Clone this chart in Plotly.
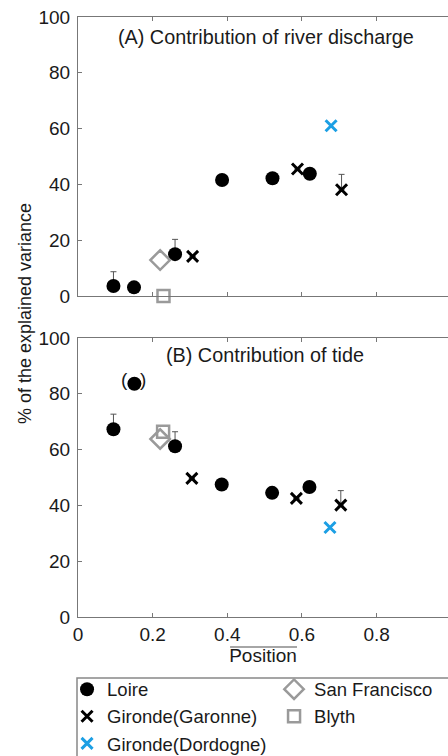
import plotly.graph_objects as go

# ---------------- data ----------------
# Panel A: contribution of river discharge
loire_x_A = [0.095, 0.150, 0.260, 0.386, 0.521, 0.621]
loire_y_A = [3.6, 3.1, 15.0, 41.6, 42.2, 43.8]
loire_err_A = [5.1, None, 5.3, None, None, None]
garonne_x_A = [0.307, 0.588, 0.706]
garonne_y_A = [14.2, 45.5, 38.1]
garonne_err_A = [None, None, 5.5]
dordogne_x_A = [0.678]
dordogne_y_A = [61.0]
sf_x_A = [0.220]
sf_y_A = [12.9]
blyth_x_A = [0.229]
blyth_y_A = [0.0]

# Panel B: contribution of tide
loire_x_B = [0.095, 0.151, 0.260, 0.385, 0.520, 0.620]
loire_y_B = [67.3, 83.6, 61.2, 47.5, 44.5, 46.6]
loire_err_B = [5.4, None, 5.2, None, None, None]
garonne_x_B = [0.305, 0.585, 0.704]
garonne_y_B = [49.7, 42.5, 40.1]
garonne_err_B = [None, None, 5.2]
dordogne_x_B = [0.675]
dordogne_y_B = [32.1]
sf_x_B = [0.220]
sf_y_B = [63.8]
blyth_x_B = [0.228]
blyth_y_B = [66.4]

x_ticks = [0, 0.2, 0.4, 0.6, 0.8, 1]
y_ticks = [0, 20, 40, 60, 80, 100]

FONT = "Liberation Sans, Arial, sans-serif"
BLUE = "#1c9fe4"
GRAY = "#9a9a9a"
AXC = "#777777"

fig = go.Figure()

def err(arr):
    return dict(type="data", symmetric=False, array=arr,
                arrayminus=[None if v is None else 0 for v in arr],
                color="#555555", thickness=1, width=3)

loire_m = dict(symbol="circle", size=14, color="black")
garonne_m = dict(symbol="x-thin", size=11, line=dict(width=3, color="black"))
dordogne_m = dict(symbol="x-thin", size=11, line=dict(width=3, color=BLUE))
sf_m = dict(symbol="diamond-open", size=15, color=GRAY, line=dict(width=2.5, color=GRAY))
blyth_m = dict(symbol="square-open", size=12, color=GRAY, line=dict(width=2.5, color=GRAY))

panels = [
    ("x", "y", loire_x_A, loire_y_A, loire_err_A, garonne_x_A, garonne_y_A, garonne_err_A,
     dordogne_x_A, dordogne_y_A, sf_x_A, sf_y_A, blyth_x_A, blyth_y_A, True),
    ("x2", "y2", loire_x_B, loire_y_B, loire_err_B, garonne_x_B, garonne_y_B, garonne_err_B,
     dordogne_x_B, dordogne_y_B, sf_x_B, sf_y_B, blyth_x_B, blyth_y_B, False),
]

for (xa, ya, lx, ly, le, gx, gy, ge, dx, dy, sx, sy, bx, by, show) in panels:
    fig.add_trace(go.Scatter(x=lx, y=ly, mode="markers", name="Loire", cliponaxis=False,
                             showlegend=show, marker=loire_m, error_y=err(le), xaxis=xa, yaxis=ya))
    fig.add_trace(go.Scatter(x=sx, y=sy, mode="markers", name="San Francisco", cliponaxis=False,
                             showlegend=show, marker=sf_m, xaxis=xa, yaxis=ya))
    fig.add_trace(go.Scatter(x=gx, y=gy, mode="markers", name="Gironde(Garonne)", cliponaxis=False,
                             showlegend=show, marker=garonne_m, error_y=err(ge), xaxis=xa, yaxis=ya))
    fig.add_trace(go.Scatter(x=bx, y=by, mode="markers", name="Blyth", cliponaxis=False,
                             showlegend=show, marker=blyth_m, xaxis=xa, yaxis=ya))
    fig.add_trace(go.Scatter(x=dx, y=dy, mode="markers", name="Gironde(Dordogne)", cliponaxis=False,
                             showlegend=show, marker=dordogne_m, xaxis=xa, yaxis=ya))

XMAX = 370 / 373.3

axis_common = dict(showgrid=False, zeroline=False, showline=True, linecolor=AXC, linewidth=1.2,
                   ticks="inside", ticklen=4, tickcolor=AXC, tickwidth=1,
                   tickfont=dict(family=FONT, size=19, color="#1a1a1a"))

fig.update_layout(
    width=448, height=756,
    margin=dict(l=78, r=0, t=17, b=139, autoexpand=False),
    paper_bgcolor="white", plot_bgcolor="white",
    font=dict(family=FONT, color="#1a1a1a"),
    xaxis=dict(domain=[0, 1], anchor="y", range=[0, XMAX], tickvals=x_ticks,
               showticklabels=False, mirror="ticks", **axis_common),
    yaxis=dict(domain=[0.535, 1], anchor="x", range=[0, 100], tickvals=y_ticks,
               ticklabelstandoff=3, **axis_common),
    xaxis2=dict(domain=[0, 1], anchor="y2", range=[0, XMAX], tickvals=x_ticks,
                ticktext=["0", "0.2", "0.4", "0.6", "0.8", "1"], mirror="ticks",
                title=dict(text="Position", font=dict(family=FONT, size=19, color="#1a1a1a"), standoff=4),
                **axis_common),
    yaxis2=dict(domain=[0, 0.465], anchor="x2", range=[0, 100], tickvals=y_ticks,
                ticklabelstandoff=3, **axis_common),
    legend=dict(orientation="h", x=-0.0296, xanchor="left", y=-0.0895, yanchor="top",
                entrywidth=162, entrywidthmode="pixels", tracegroupgap=0,
                bgcolor="rgba(0,0,0,0)", borderwidth=0,
                font=dict(family=FONT, size=18.5, color="#1a1a1a")),
    showlegend=True,
)

# panel titles
fig.add_annotation(text="(A) Contribution of river discharge", x=0.5036, y=92.8, xref="x", yref="y",
                   showarrow=False, font=dict(family=FONT, size=19.8, color="#1a1a1a"))
fig.add_annotation(text="(B) Contribution of tide", x=0.50, y=94, xref="x2", yref="y2",
                   showarrow=False, font=dict(family=FONT, size=19.8, color="#1a1a1a"))
# parentheses around the Loire point in panel B
fig.add_annotation(text="(", x=loire_x_B[1], y=loire_y_B[1], xref="x2", yref="y2", xshift=-10, yshift=4,
                   showarrow=False, font=dict(family=FONT, size=19, color="#1a1a1a"))
fig.add_annotation(text=")", x=loire_x_B[1], y=loire_y_B[1], xref="x2", yref="y2", xshift=9, yshift=4,
                   showarrow=False, font=dict(family=FONT, size=19, color="#1a1a1a"))
# y axis title shared
fig.add_annotation(text="% of the explained variance", x=-0.143, y=0.505, xref="paper", yref="paper",
                   xanchor="center", yanchor="middle",
                   textangle=-90, showarrow=False, font=dict(family=FONT, size=18, color="#1a1a1a"))

# overline on "Position" and legend frame
fig.add_shape(type="line", xref="paper", yref="paper", x0=0.411, x1=0.592, y0=-0.05, y1=-0.05,
              line=dict(color="#888888", width=1.5))
fig.add_shape(type="rect", xref="paper", yref="paper", x0=-0.0027, x1=1.05, y0=-0.1017, y1=-0.3,
              line=dict(color="#888888", width=1.5), fillcolor="rgba(0,0,0,0)")

fig.write_html("out.html", config={"displayModeBar": False},
               post_script="document.body.style.margin='0';document.body.style.overflow='hidden';")
